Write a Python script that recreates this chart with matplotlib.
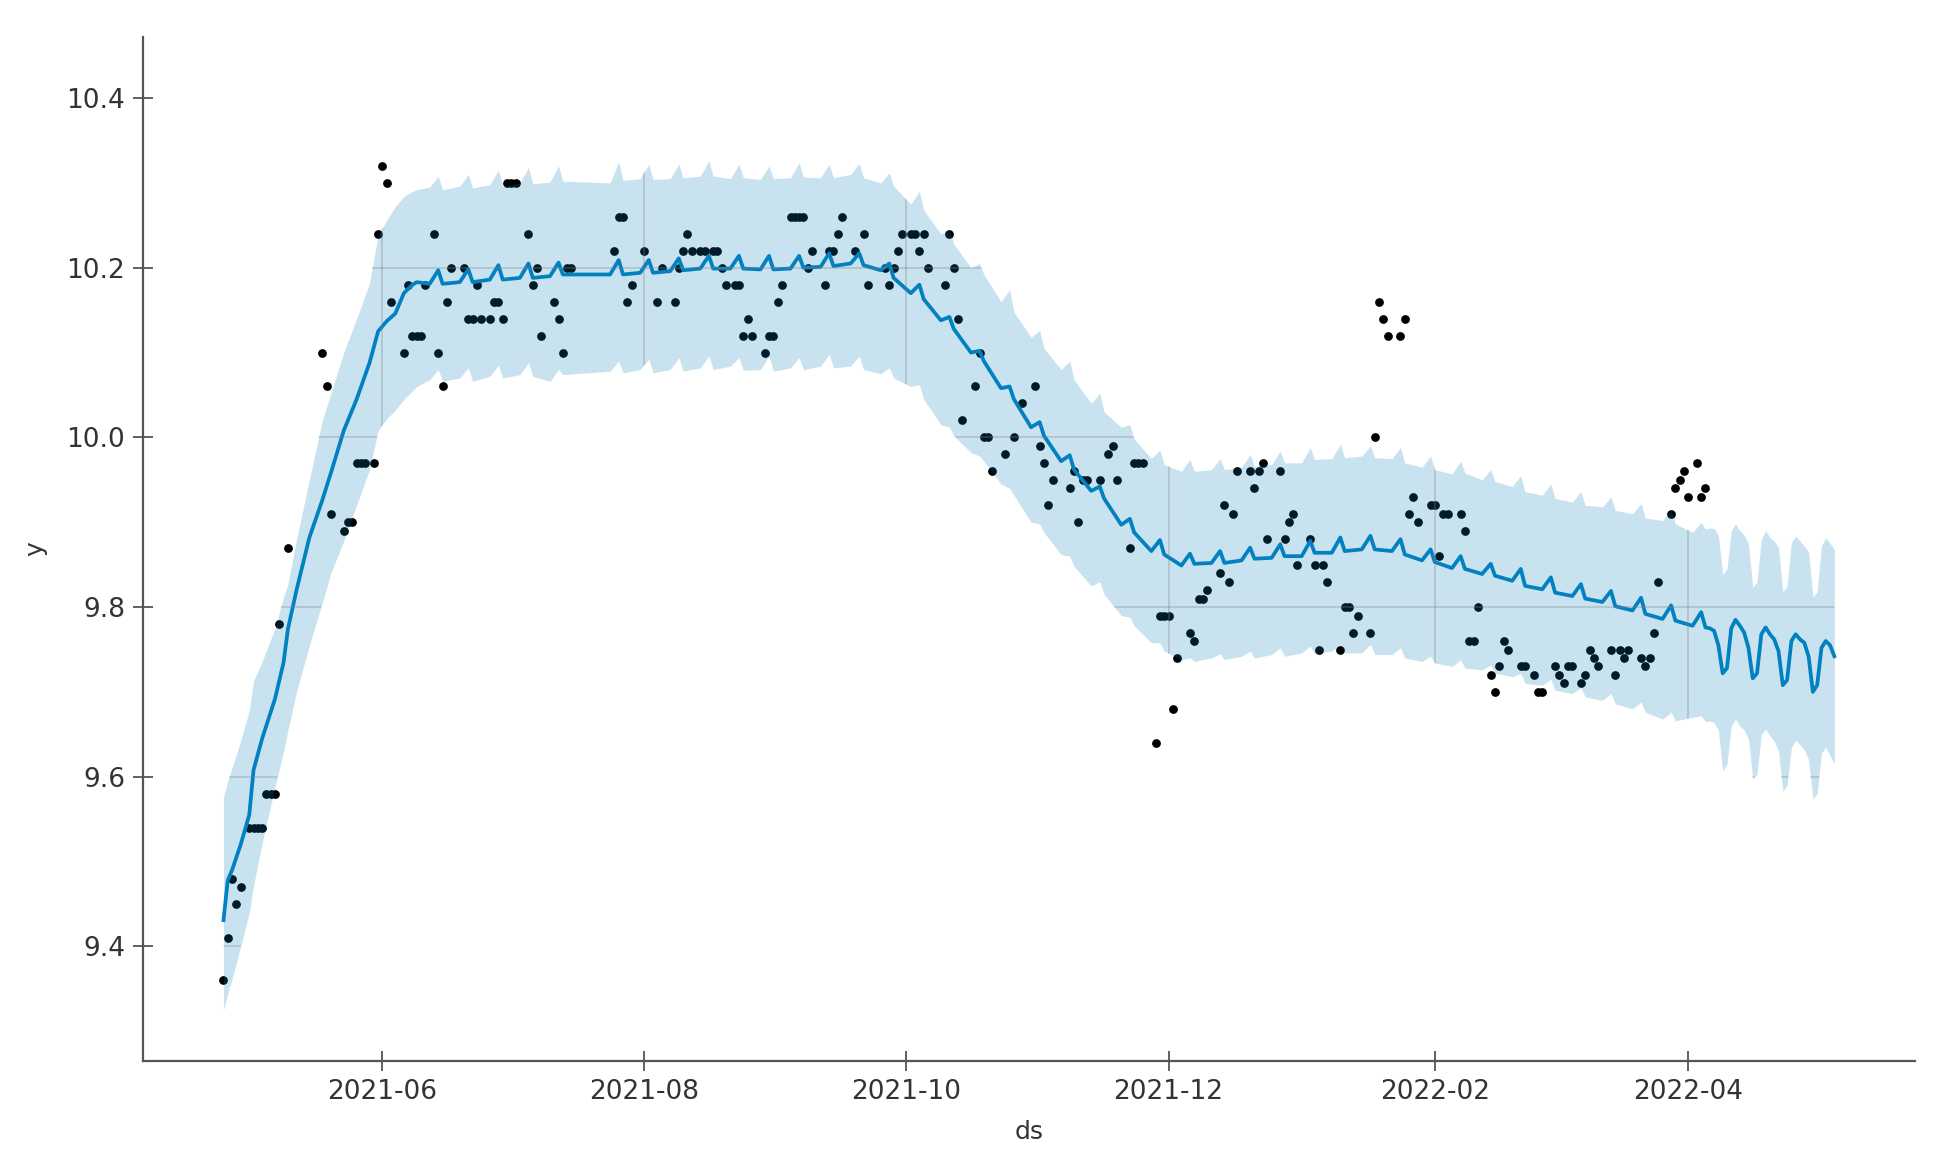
import numpy as np
import matplotlib
matplotlib.use('Agg')
import matplotlib.pyplot as plt

plt.rcParams['font.family'] = ['DejaVu Sans']

# ---------------- data (day offsets relative to 2021-06-01) ----------------
base_date = np.datetime64('2021-06-01')

fc_day = [
    -37, -36, -35, -33, -31, -30, -28, -25, -23, -22, -20, -17, -14, -12,
    -9, -6, -3, -1, 1, 3, 5, 7, 8,
    11, 13, 14, 18, 20, 21, 25, 27, 28, 32, 34, 35, 39, 41, 42,
    53, 55, 56, 60, 62, 63, 67, 69, 70, 74, 76, 77, 81, 83, 84,
    88, 90, 91, 95, 97, 98, 102, 104, 105, 109, 111, 112, 116, 118, 119,
    123, 125, 126, 130, 132, 133, 137, 139, 140, 144, 146, 147, 151, 153, 154,
    158, 160, 161, 165, 167, 168, 172, 174, 175, 179, 181, 182, 186, 188, 189,
    193, 195, 196, 200, 202, 203, 207, 209, 210, 214, 216, 217, 221, 223, 224,
    228, 230, 231, 235, 237, 238, 242, 244, 245, 249, 251, 252, 256, 258, 259,
    263, 265, 266, 270, 272, 273, 277, 279, 280, 284, 286, 287, 291, 293, 294,
    298, 300, 301, 305, 307, 308,
    309, 310, 311, 312, 313, 314, 315, 316, 317, 318, 319, 320, 321, 322, 323,
    324, 325, 326, 327, 328, 329, 330, 331, 332, 333, 334, 335, 336, 337, 338,
]

fc_yhat = [
    9.431, 9.478, 9.490, 9.520, 9.555, 9.608, 9.645, 9.692, 9.735, 9.774, 9.820, 9.882, 9.926, 9.958,
    10.008, 10.045, 10.088, 10.125, 10.137, 10.146, 10.170, 10.180, 10.183,
    10.181, 10.197, 10.181, 10.183, 10.198, 10.183, 10.186, 10.203, 10.186, 10.188, 10.205, 10.188, 10.190, 10.206, 10.192,
    10.192, 10.209, 10.192, 10.194, 10.209, 10.194, 10.196, 10.211, 10.197, 10.199, 10.214, 10.199, 10.199, 10.214, 10.199,
    10.198, 10.214, 10.198, 10.199, 10.214, 10.200, 10.201, 10.217, 10.202, 10.205, 10.217, 10.203, 10.197, 10.205, 10.188,
    10.170, 10.180, 10.163, 10.138, 10.142, 10.128, 10.100, 10.102, 10.090, 10.058, 10.060, 10.045, 10.012, 10.018, 10.002,
    9.972, 9.979, 9.962, 9.937, 9.942, 9.928, 9.897, 9.904, 9.888, 9.866, 9.879, 9.862, 9.849, 9.863, 9.851,
    9.852, 9.866, 9.852, 9.855, 9.870, 9.857, 9.858, 9.874, 9.860, 9.860, 9.878, 9.864, 9.864, 9.882, 9.866,
    9.868, 9.884, 9.868, 9.866, 9.880, 9.862, 9.855, 9.868, 9.853, 9.846, 9.860, 9.845, 9.839, 9.851, 9.837,
    9.831, 9.845, 9.825, 9.821, 9.835, 9.817, 9.813, 9.827, 9.810, 9.806, 9.819, 9.801, 9.796, 9.811, 9.792,
    9.786, 9.802, 9.784, 9.778, 9.794, 9.776,
    9.775, 9.772, 9.755, 9.722, 9.728, 9.775, 9.785, 9.778, 9.770, 9.752, 9.716, 9.722, 9.768, 9.776, 9.768,
    9.762, 9.748, 9.708, 9.714, 9.760, 9.768, 9.762, 9.758, 9.742, 9.700, 9.708, 9.752, 9.760, 9.755, 9.742,
]

fc_lower = [
    9.325, 9.345, 9.362, 9.400, 9.440, 9.472, 9.522, 9.588, 9.630, 9.655, 9.700, 9.755, 9.805, 9.840,
    9.878, 9.920, 9.962, 10.008, 10.022, 10.032, 10.045, 10.055, 10.060,
    10.068, 10.080, 10.066, 10.070, 10.082, 10.066, 10.072, 10.085, 10.070, 10.074, 10.088, 10.072, 10.066, 10.080, 10.074,
    10.078, 10.090, 10.076, 10.080, 10.092, 10.076, 10.080, 10.094, 10.078, 10.082, 10.096, 10.080, 10.084, 10.094, 10.079,
    10.080, 10.096, 10.078, 10.082, 10.094, 10.080, 10.084, 10.098, 10.082, 10.084, 10.096, 10.080, 10.075, 10.082, 10.070,
    10.060, 10.062, 10.045, 10.015, 10.012, 10.002, 9.982, 9.978, 9.972, 9.945, 9.940, 9.932, 9.900, 9.898, 9.888,
    9.862, 9.860, 9.848, 9.825, 9.830, 9.815, 9.790, 9.788, 9.778, 9.758, 9.758, 9.748, 9.738, 9.740, 9.736,
    9.740, 9.745, 9.738, 9.742, 9.748, 9.740, 9.744, 9.752, 9.742, 9.746, 9.754, 9.745, 9.748, 9.756, 9.746,
    9.746, 9.756, 9.744, 9.744, 9.752, 9.740, 9.736, 9.742, 9.734, 9.730, 9.738, 9.728, 9.726, 9.732, 9.722,
    9.718, 9.722, 9.710, 9.708, 9.715, 9.702, 9.698, 9.705, 9.694, 9.690, 9.698, 9.686, 9.680, 9.688, 9.676,
    9.668, 9.676, 9.666, 9.670, 9.672, 9.665,
    9.666, 9.664, 9.655, 9.607, 9.615, 9.660, 9.668, 9.660, 9.655, 9.645, 9.597, 9.603, 9.650, 9.656, 9.648,
    9.642, 9.630, 9.583, 9.590, 9.635, 9.643, 9.638, 9.632, 9.620, 9.574, 9.580, 9.628, 9.635, 9.625, 9.615,
]

fc_upper = [
    9.576, 9.595, 9.611, 9.642, 9.678, 9.713, 9.736, 9.775, 9.812, 9.827, 9.880, 9.950, 10.020, 10.052,
    10.100, 10.140, 10.182, 10.238, 10.256, 10.272, 10.284, 10.290, 10.292,
    10.295, 10.308, 10.292, 10.296, 10.310, 10.294, 10.298, 10.315, 10.296, 10.300, 10.318, 10.299, 10.301, 10.320, 10.302,
    10.300, 10.325, 10.303, 10.305, 10.322, 10.304, 10.305, 10.322, 10.306, 10.308, 10.326, 10.308, 10.305, 10.322, 10.306,
    10.304, 10.320, 10.305, 10.306, 10.324, 10.307, 10.306, 10.322, 10.306, 10.310, 10.323, 10.306, 10.300, 10.312, 10.296,
    10.275, 10.290, 10.268, 10.240, 10.245, 10.228, 10.200, 10.205, 10.192, 10.160, 10.174, 10.148, 10.118, 10.126, 10.105,
    10.080, 10.090, 10.068, 10.040, 10.052, 10.030, 10.012, 10.015, 9.998, 9.975, 9.985, 9.968, 9.960, 9.974, 9.960,
    9.962, 9.975, 9.962, 9.965, 9.980, 9.966, 9.968, 9.984, 9.970, 9.970, 9.988, 9.974, 9.975, 9.992, 9.976,
    9.978, 9.990, 9.976, 9.975, 9.988, 9.970, 9.965, 9.978, 9.962, 9.957, 9.972, 9.958, 9.950, 9.962, 9.948,
    9.942, 9.955, 9.936, 9.932, 9.945, 9.928, 9.924, 9.936, 9.920, 9.918, 9.930, 9.914, 9.910, 9.922, 9.905,
    9.902, 9.915, 9.898, 9.888, 9.900, 9.892,
    9.893, 9.893, 9.885, 9.838, 9.845, 9.890, 9.898, 9.890, 9.885, 9.875, 9.823, 9.830, 9.880, 9.890, 9.882,
    9.878, 9.870, 9.818, 9.825, 9.876, 9.884, 9.878, 9.872, 9.865, 9.812, 9.818, 9.872, 9.882, 9.875, 9.868,
]

obs_day = [
    -37, -36, -35, -34, -33, -31, -30, -29, -28, -27, -26, -25, -24, -22, -14, -13, -12,
    -9, -8, -7, -6, -5, -4, -2, -1, 0, 1, 2, 5, 6, 7, 8, 9, 10, 12, 13, 14, 15, 16,
    19, 20, 21, 22, 23, 25, 26, 27, 28, 29, 30, 31, 34, 35, 36, 37, 40, 41, 42, 43, 44,
    54, 55, 56, 57, 58, 61, 64, 65, 68, 69, 70, 71, 72, 74, 75, 77, 78, 79, 80, 82, 83,
    84, 85, 86, 89, 90, 91, 92, 93, 95, 96, 97, 98, 99, 100, 103, 104, 105, 106, 107,
    110, 112, 113, 117, 118, 119, 120, 121, 123, 124, 125, 126, 127, 131, 132, 133, 134,
    135, 138, 139, 140, 141, 142, 145, 147, 149, 152, 153, 154, 155, 156, 160, 161, 162,
    163, 164, 167, 169, 170, 171, 174, 175, 176, 177, 180, 181, 182, 183, 184, 185,
    188, 189, 190, 191, 192, 195, 196, 197, 198, 199, 202, 203, 204, 205, 206, 209,
    210, 211, 212, 213, 216, 217, 218, 219, 220, 223, 224, 225, 226, 227, 230, 231,
    232, 233, 234, 237, 238, 239, 240, 241, 244, 245, 246, 247, 248, 251, 252, 253,
    254, 255, 258, 259, 260, 261, 262, 265, 266, 268, 269, 270, 273, 274, 275, 276,
    277, 279, 280, 281, 282, 283, 286, 287, 288, 289, 290, 293, 294, 295, 296, 297,
    300, 301, 302, 303, 304, 306, 307, 308,
]

obs_y = [
    9.36, 9.41, 9.48, 9.45, 9.47, 9.54, 9.54, 9.54, 9.54, 9.58, 9.58, 9.58, 9.78, 9.87, 10.10, 10.06, 9.91,
    9.89, 9.90, 9.90, 9.97, 9.97, 9.97, 9.97, 10.24, 10.32, 10.30, 10.16, 10.10, 10.18, 10.12, 10.12, 10.12, 10.18, 10.24, 10.10, 10.06, 10.16, 10.20,
    10.20, 10.14, 10.14, 10.18, 10.14, 10.14, 10.16, 10.16, 10.14, 10.30, 10.30, 10.30, 10.24, 10.18, 10.20, 10.12, 10.16, 10.14, 10.10, 10.20, 10.20,
    10.22, 10.26, 10.26, 10.16, 10.18, 10.22, 10.16, 10.20, 10.16, 10.20, 10.22, 10.24, 10.22, 10.22, 10.22, 10.22, 10.22, 10.20, 10.18, 10.18, 10.18,
    10.12, 10.14, 10.12, 10.10, 10.12, 10.12, 10.16, 10.18, 10.26, 10.26, 10.26, 10.26, 10.20, 10.22, 10.18, 10.22, 10.22, 10.24, 10.26,
    10.22, 10.24, 10.18, 10.20, 10.18, 10.20, 10.22, 10.24, 10.24, 10.24, 10.22, 10.24, 10.20, 10.18, 10.24, 10.20, 10.14,
    10.02, 10.06, 10.10, 10.00, 10.00, 9.96, 9.98, 10.00, 10.04, 10.06, 9.99, 9.97, 9.92, 9.95, 9.94, 9.96, 9.90,
    9.95, 9.95, 9.95, 9.98, 9.99, 9.95, 9.87, 9.97, 9.97, 9.97, 9.64, 9.79, 9.79, 9.79, 9.68, 9.74,
    9.77, 9.76, 9.81, 9.81, 9.82, 9.84, 9.92, 9.83, 9.91, 9.96, 9.96, 9.94, 9.96, 9.97, 9.88, 9.96,
    9.88, 9.90, 9.91, 9.85, 9.88, 9.85, 9.75, 9.85, 9.83, 9.75, 9.80, 9.80, 9.77, 9.79, 9.77, 10.00,
    10.16, 10.14, 10.12, 10.12, 10.14, 9.91, 9.93, 9.90, 9.92, 9.92, 9.86, 9.91, 9.91, 9.91, 9.89, 9.76,
    9.76, 9.80, 9.72, 9.70, 9.73, 9.76, 9.75, 9.73, 9.73, 9.72, 9.70, 9.70, 9.73, 9.72, 9.71, 9.73,
    9.73, 9.71, 9.72, 9.75, 9.74, 9.73, 9.75, 9.72, 9.75, 9.74, 9.75, 9.74, 9.73, 9.74, 9.77, 9.83,
    9.91, 9.94, 9.95, 9.96, 9.93, 9.97, 9.93, 9.94,
]

xtick_dates = ['2021-06-01', '2021-08-01', '2021-10-01', '2021-12-01', '2022-02-01', '2022-04-01']
xtick_labels = ['2021-06', '2021-08', '2021-10', '2021-12', '2022-02', '2022-04']
ytick_values = [9.4, 9.6, 9.8, 10.0, 10.2, 10.4]
ytick_labels = ['9.4', '9.6', '9.8', '10.0', '10.2', '10.4']

# ---------------- figure ----------------
fc_x = base_date + np.array(fc_day).astype('timedelta64[D]')
obs_x = base_date + np.array(obs_day).astype('timedelta64[D]')

fig = plt.figure(figsize=(19.5, 11.73), dpi=100)
ax = fig.add_axes([0.0733, 0.0955, 0.9087, 0.873])

ax.plot(obs_x, obs_y, 'o', color='k', ms=6.3, mec='none', zorder=2)
ax.plot(fc_x, fc_yhat, '-', color='#0082C4', lw=2.7, zorder=2,
        solid_joinstyle='round')
band = ax.fill_between(fc_x, fc_lower, fc_upper, color='#0a7fb8', alpha=0.22, lw=0, zorder=3)

ax.set_ylim(9.265, 10.472)

xt = [np.datetime64(d) for d in xtick_dates]
ax.set_xticks(xt)
ax.set_xticklabels(xtick_labels)
ax.set_yticks(ytick_values)
ax.set_yticklabels(ytick_labels)

# grid lines, visible only through the uncertainty band as in the reference
clip_path = band.get_paths()[0]
for d in xt:
    ln = ax.axvline(d, color='gray', lw=1.2, alpha=0.35, zorder=4)
    ln.set_clip_path(clip_path, ax.transData)
for v in ytick_values:
    ln = ax.axhline(v, color='gray', lw=1.2, alpha=0.35, zorder=4)
    ln.set_clip_path(clip_path, ax.transData)

for side in ['top', 'right']:
    ax.spines[side].set_visible(False)
for side in ['left', 'bottom']:
    ax.spines[side].set_color('#555555')
    ax.spines[side].set_linewidth(1.6)

ax.tick_params(axis='both', direction='inout', length=14, width=1.3,
               color='#555555', labelsize=19, labelcolor='#333333', pad=6)

ax.set_xlabel('ds', fontsize=18, color='#333333')
ax.set_ylabel('y', fontsize=18, color='#333333')
ax.xaxis.set_label_coords(0.5, -0.058)
ax.yaxis.set_label_coords(-0.054, 0.5)

fig.savefig('out.png', dpi=100, facecolor='white')
